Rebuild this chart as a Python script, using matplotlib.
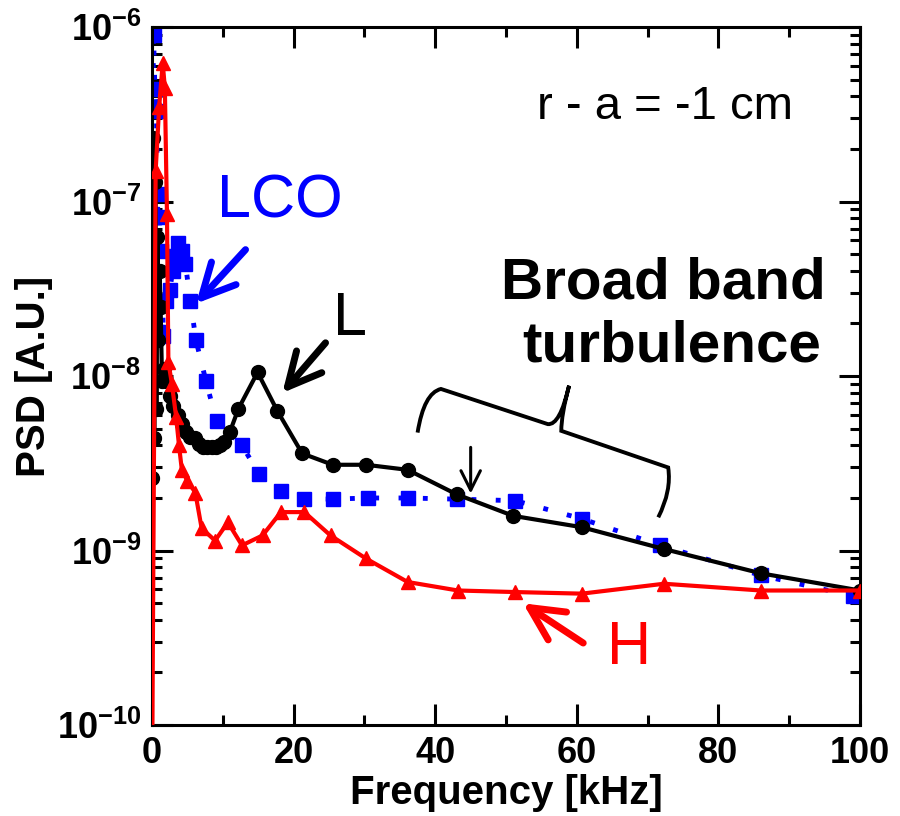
import math
import matplotlib
matplotlib.use("Agg")
import matplotlib.pyplot as plt
from matplotlib.path import Path
from matplotlib.patches import PathPatch
from matplotlib.ticker import LogLocator, FuncFormatter, MultipleLocator, NullFormatter

plt.rcParams['font.family'] = ['Liberation Sans', 'DejaVu Sans']
plt.rcParams['mathtext.fontset'] = 'custom'
plt.rcParams['mathtext.rm'] = 'Liberation Sans'
plt.rcParams['mathtext.bf'] = 'Liberation Sans:bold'

# L mode (black, circles)
freq_L = [0.0, 0.15, 0.3, 0.45, 0.6, 0.75, 0.9, 1.05, 1.2, 1.4,
          1.7, 2.0, 2.5, 3.0, 3.6, 4.2, 4.8, 5.4, 6.0, 6.6,
          7.2, 7.8, 8.4, 9.0, 9.6, 10.2, 11.0, 12.2, 14.9, 17.7,
          21.2, 25.5, 30.2, 36.1, 43.0, 51.0, 60.7, 72.3, 86.0, 100.0]
psd_L = [2.6e-9, 2.3e-7, 4.4e-9, 1.3e-7, 6.5e-9, 6.3e-8, 1.6e-8, 4.0e-8, 2.5e-8, 9.4e-9,
         1.1e-8, 9.4e-9, 7.7e-9, 6.7e-9, 6.0e-9, 5.3e-9, 4.8e-9, 4.5e-9, 4.4e-9, 4.1e-9,
         3.9e-9, 3.9e-9, 3.9e-9, 3.9e-9, 4.0e-9, 4.2e-9, 4.8e-9, 6.5e-9, 1.05e-8, 6.3e-9,
         3.6e-9, 3.1e-9, 3.1e-9, 2.9e-9, 2.1e-9, 1.58e-9, 1.36e-9, 1.02e-9, 7.4e-10, 5.9e-10]

# LCO (blue, squares)
freq_LCO = [0.0, 0.2, 0.4, 0.6, 0.8, 1.0, 1.3, 1.6, 2.0, 2.5,
            2.9, 3.3, 3.7, 4.2, 4.7, 5.4, 6.2, 7.6, 9.1, 12.7,
            15.1, 18.2, 21.5, 25.5, 30.5, 36.1, 43.0, 51.3, 60.7, 71.8,
            86.0, 99.0]
psd_LCO = [8.5e-8, 9.0e-7, 4.4e-7, 3.3e-7, 1.1e-7, 8.2e-8, 5.2e-8, 1.7e-8, 2.7e-8, 3.1e-8,
           4.0e-8, 4.9e-8, 5.8e-8, 5.2e-8, 4.4e-8, 2.7e-8, 1.6e-8, 9.4e-9, 5.5e-9, 4.0e-9,
           2.75e-9, 2.2e-9, 1.98e-9, 1.97e-9, 2.0e-9, 2.0e-9, 1.97e-9, 1.93e-9, 1.52e-9, 1.07e-9,
           7.2e-10, 5.5e-10]

# H mode (red, triangles)
freq_H = [0.0, 0.5, 1.0, 1.5, 1.8, 2.1, 2.3, 2.8, 3.4, 3.8,
          4.2, 5.0, 6.1, 7.0, 8.9, 10.7, 12.7, 15.6, 18.2, 21.5,
          25.2, 30.2, 36.1, 43.2, 51.3, 60.7, 72.3, 86.0, 100.0]
psd_H = [5e-11, 1.5e-7, 3.5e-7, 6.2e-7, 4.5e-7, 8.5e-8, 1.2e-8, 9.0e-9, 5.8e-9, 4.0e-9,
         2.9e-9, 2.5e-9, 2.15e-9, 1.34e-9, 1.14e-9, 1.45e-9, 1.07e-9, 1.22e-9, 1.66e-9, 1.66e-9,
         1.22e-9, 9.0e-10, 6.6e-10, 5.9e-10, 5.78e-10, 5.66e-10, 6.45e-10, 5.9e-10, 5.9e-10]

fig = plt.figure(figsize=(9, 8.16), dpi=100)
ax = fig.add_axes([0.169, 0.1115, 0.7866, 0.8554])

ax.plot(freq_LCO, psd_LCO, color='#0000ff', marker='s', markersize=10, lw=3.5,
        linestyle=(0, (1, 4)), zorder=2)
ax.plot(freq_L, psd_L, color='black', marker='o', markersize=10, lw=3, zorder=3)
ax.plot(freq_H, psd_H, color='#ff0000', marker='^', markersize=10, lw=3, zorder=4)

ax.set_yscale('log')
ax.set_xlim(0, 100)
ax.set_ylim(1e-10, 1e-6)

ax.xaxis.set_major_locator(MultipleLocator(20))
ax.xaxis.set_minor_locator(MultipleLocator(10))
ax.yaxis.set_major_locator(LogLocator(base=10, numticks=10))
ax.yaxis.set_minor_locator(LogLocator(base=10, subs=range(2, 10), numticks=20))
ax.yaxis.set_minor_formatter(NullFormatter())
ax.yaxis.set_major_formatter(FuncFormatter(
    lambda v, p: r'$\mathbf{10^{%d}}$' % round(math.log10(v))))

ax.tick_params(which='both', direction='in', top=True, right=True, width=2.2)
ax.tick_params(which='major', length=15, labelsize=26, pad=8)
ax.tick_params(which='minor', length=7)
for lab in ax.get_xticklabels():
    lab.set_fontweight('bold')
for sp in ax.spines.values():
    sp.set_linewidth(2.2)

ax.set_xlabel('Frequency [kHz]', fontsize=29, fontweight='bold')
ax.set_ylabel('PSD [A.U.]', fontsize=29, fontweight='bold')
ax.xaxis.set_label_coords(0.5, -0.07)
ax.yaxis.set_label_coords(-0.14, 0.5)

# annotations
ax.text(72.4, 3.5e-7, 'r - a = -1 cm', fontsize=34, ha='center', va='center')
ax.text(72.2, 3.4e-8, 'Broad band', fontsize=42, fontweight='bold', ha='center', va='center')
ax.text(73.4, 1.48e-8, 'turbulence', fontsize=42, fontweight='bold', ha='center', va='center')

ax.text(18.1, 1.0e-7, 'LCO', fontsize=44, color='#0000ff', ha='center', va='center')
ax.text(28.0, 2.1e-8, 'L', fontsize=44, color='black', ha='center', va='center')
ax.text(67.4, 2.75e-10, 'H', fontsize=44, color='#ff0000', ha='center', va='center')

big_head = '->,head_length=1.2,head_width=0.6'
arrow_kw = dict(arrowstyle=big_head, lw=5, mutation_scale=20, shrinkA=0, shrinkB=0)
ax.annotate('', xy=(6.2, 2.6e-8), xytext=(13.2, 5.3e-8),
            arrowprops=dict(color='#0000ff', **arrow_kw))
ax.annotate('', xy=(18.4, 8.0e-9), xytext=(24.5, 1.55e-8),
            arrowprops=dict(color='black', **arrow_kw))
ax.annotate('', xy=(52.4, 4.98e-10), xytext=(60.9, 2.95e-10),
            arrowprops=dict(color='#ff0000', **arrow_kw))
ax.annotate('', xy=(45.0, 2.12e-9), xytext=(45.0, 3.9e-9),
            arrowprops=dict(arrowstyle='->,head_length=0.7,head_width=0.35', lw=2.2,
                            color='black', mutation_scale=20, shrinkA=0, shrinkB=0))

# curly brace over the broad band region
brace_pts = [(37.5, 4.74e-9), (38.4, 8.0e-9), (40.8, 8.43e-9),
             (55.9, 5.3e-9), (57.6, 5.2e-9), (58.9, 8.8e-9),
             (57.8, 6.0e-9), (57.8, 4.85e-9),
             (72.9, 2.99e-9), (73.4, 2.2e-9), (71.5, 1.55e-9)]
brace_codes = [Path.MOVETO, Path.CURVE3, Path.CURVE3,
               Path.LINETO, Path.CURVE3, Path.CURVE3,
               Path.CURVE3, Path.CURVE3,
               Path.LINETO, Path.CURVE3, Path.CURVE3]
ax.add_patch(PathPatch(Path(brace_pts, brace_codes), fill=False, lw=2.8,
                       edgecolor='black', zorder=5))

fig.savefig('out.png', dpi=100)
